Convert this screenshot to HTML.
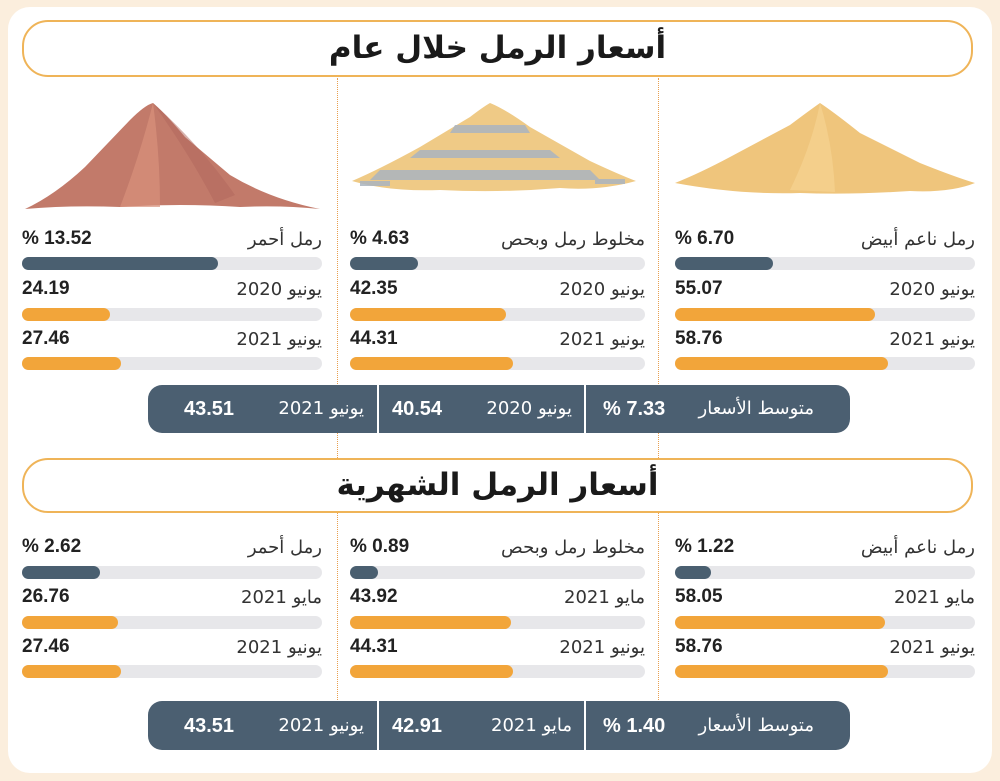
<!DOCTYPE html>
<html><head><meta charset="utf-8"><style>
*{margin:0;padding:0;box-sizing:border-box}
body{width:1000px;height:781px;background:#fbeedd;position:relative;overflow:hidden;font-family:"DejaVu Sans","Liberation Sans",sans-serif;color:#222}
.card{position:absolute;left:8px;top:7px;width:984px;height:766px;background:#fff;border-radius:22px}
.hdr{position:absolute;left:22px;width:951px;border:2px solid #efb458;border-radius:26px;text-align:center;font-weight:bold;font-size:31px;color:#1a1a1a}
.dot{position:absolute;width:0;border-left:1.5px dotted #e8a050}
.t{position:absolute;font-size:18px;white-space:nowrap;line-height:22px;color:#333}
.v{position:absolute;font-size:19px;font-weight:bold;white-space:nowrap;line-height:22px;color:#222;font-family:"Liberation Sans","DejaVu Sans",sans-serif}
.tr{position:absolute;height:13px;background:#e7e7ea;border-radius:7px}
.f{position:absolute;left:0;top:0;height:13px;border-radius:7px}
.d{background:#4a5f70}.o{background:#f2a53a}
.pill{position:absolute;left:148px;width:702px;background:#4b5f71;border-radius:14px;color:#fff}
.pill .s{position:absolute;top:0;bottom:0;width:2px;background:#fff}
.pill span{position:absolute;font-size:18px;white-space:nowrap;line-height:22px}
.pill b{position:absolute;font-size:20px;white-space:nowrap;line-height:22px;font-family:"Liberation Sans",sans-serif}
</style></head><body>
<div class="card"></div>
<div class="dot" style="left:337px;top:78px;height:622px"></div>
<div class="dot" style="left:658px;top:78px;height:622px"></div>
<div class="hdr" style="top:20px;height:57px;line-height:52px;background:#fff">أسعار الرمل خلال عام</div>
<div class="hdr" style="top:458px;height:55px;line-height:50px;background:#fff">أسعار الرمل الشهرية</div>

<svg style="position:absolute;left:0;top:95px" width="1000" height="120">
<path d="M675,88 Q700,78 730,62 L790,30 Q810,15 820,8 Q835,18 860,38 L920,68 Q955,82 975,88 Q950,98 910,96 Q850,100 800,98 Q740,100 675,88Z" fill="#efc57c"/>
<path d="M820,8 Q812,50 790,95 L835,97 Q833,50 820,8Z" fill="#f6d596" opacity=".6"/>
<path d="M352,86 Q380,74 420,52 L470,22 Q483,12 490,8 Q505,14 530,32 L590,66 Q620,80 636,86 Q600,96 560,93 Q500,98 440,95 Q390,97 352,86Z" fill="#efca86"/>
<g fill="#aab4c0" opacity=".85"><path d="M455,30 L525,30 L530,38 L450,38Z"/><path d="M420,55 L550,55 L560,63 L410,63Z"/><path d="M380,75 L590,75 L600,85 L370,85Z"/><rect x="360" y="86" width="30" height="5"/><rect x="595" y="84" width="30" height="5"/></g>
<path d="M25,114 Q55,100 85,72 L130,25 Q145,10 153,8 Q165,18 185,42 L230,80 Q270,104 320,114 Q280,110 240,112 Q180,108 120,112 Q70,110 25,114Z" fill="#c27a6a"/>
<path d="M153,8 Q140,60 120,112 L160,112 Q160,60 153,8Z" fill="#d8927c" opacity=".7"/>
<path d="M153,8 Q200,50 235,100 L215,108 Q190,60 153,8Z" fill="#b0665c" opacity=".5"/>
</svg>

<!-- Section 1 -->
<div class="t" style="right:25px;top:229px">رمل ناعم أبيض</div><div class="v" style="left:675px;top:228px">% 6.70</div>
<div class="tr" style="left:675px;top:257px;width:300px"><div class="f d" style="width:98px"></div></div>
<div class="t" style="right:25px;top:279px">يونيو 2020</div><div class="v" style="left:675px;top:278px">55.07</div>
<div class="tr" style="left:675px;top:308px;width:300px"><div class="f o" style="width:200px"></div></div>
<div class="t" style="right:25px;top:329px">يونيو 2021</div><div class="v" style="left:675px;top:328px">58.76</div>
<div class="tr" style="left:675px;top:357px;width:300px"><div class="f o" style="width:213px"></div></div>

<div class="t" style="right:355px;top:229px">مخلوط رمل وبحص</div><div class="v" style="left:350px;top:228px">% 4.63</div>
<div class="tr" style="left:350px;top:257px;width:295px"><div class="f d" style="width:68px"></div></div>
<div class="t" style="right:355px;top:279px">يونيو 2020</div><div class="v" style="left:350px;top:278px">42.35</div>
<div class="tr" style="left:350px;top:308px;width:295px"><div class="f o" style="width:156px"></div></div>
<div class="t" style="right:355px;top:329px">يونيو 2021</div><div class="v" style="left:350px;top:328px">44.31</div>
<div class="tr" style="left:350px;top:357px;width:295px"><div class="f o" style="width:163px"></div></div>

<div class="t" style="right:678px;top:229px">رمل أحمر</div><div class="v" style="left:22px;top:228px">% 13.52</div>
<div class="tr" style="left:22px;top:257px;width:300px"><div class="f d" style="width:196px"></div></div>
<div class="t" style="right:678px;top:279px">يونيو 2020</div><div class="v" style="left:22px;top:278px">24.19</div>
<div class="tr" style="left:22px;top:308px;width:300px"><div class="f o" style="width:88px"></div></div>
<div class="t" style="right:678px;top:329px">يونيو 2021</div><div class="v" style="left:22px;top:328px">27.46</div>
<div class="tr" style="left:22px;top:357px;width:300px"><div class="f o" style="width:99px"></div></div>

<div class="pill" style="top:385px;height:48px">
<div class="s" style="left:229px"></div><div class="s" style="left:436px"></div>
<span style="right:36px;top:13px">متوسط الأسعار</span><b style="left:455px;top:13px">% 7.33</b>
<span style="right:278px;top:13px">يونيو 2020</span><b style="left:244px;top:13px">40.54</b>
<span style="right:486px;top:13px">يونيو 2021</span><b style="left:36px;top:13px">43.51</b>
</div>

<!-- Section 2 -->
<div class="t" style="right:25px;top:537px">رمل ناعم أبيض</div><div class="v" style="left:675px;top:536px">% 1.22</div>
<div class="tr" style="left:675px;top:566px;width:300px"><div class="f d" style="width:36px"></div></div>
<div class="t" style="right:25px;top:587px">مايو 2021</div><div class="v" style="left:675px;top:586px">58.05</div>
<div class="tr" style="left:675px;top:616px;width:300px"><div class="f o" style="width:210px"></div></div>
<div class="t" style="right:25px;top:637px">يونيو 2021</div><div class="v" style="left:675px;top:636px">58.76</div>
<div class="tr" style="left:675px;top:665px;width:300px"><div class="f o" style="width:213px"></div></div>

<div class="t" style="right:355px;top:537px">مخلوط رمل وبحص</div><div class="v" style="left:350px;top:536px">% 0.89</div>
<div class="tr" style="left:350px;top:566px;width:295px"><div class="f d" style="width:28px"></div></div>
<div class="t" style="right:355px;top:587px">مايو 2021</div><div class="v" style="left:350px;top:586px">43.92</div>
<div class="tr" style="left:350px;top:616px;width:295px"><div class="f o" style="width:161px"></div></div>
<div class="t" style="right:355px;top:637px">يونيو 2021</div><div class="v" style="left:350px;top:636px">44.31</div>
<div class="tr" style="left:350px;top:665px;width:295px"><div class="f o" style="width:163px"></div></div>

<div class="t" style="right:678px;top:537px">رمل أحمر</div><div class="v" style="left:22px;top:536px">% 2.62</div>
<div class="tr" style="left:22px;top:566px;width:300px"><div class="f d" style="width:78px"></div></div>
<div class="t" style="right:678px;top:587px">مايو 2021</div><div class="v" style="left:22px;top:586px">26.76</div>
<div class="tr" style="left:22px;top:616px;width:300px"><div class="f o" style="width:96px"></div></div>
<div class="t" style="right:678px;top:637px">يونيو 2021</div><div class="v" style="left:22px;top:636px">27.46</div>
<div class="tr" style="left:22px;top:665px;width:300px"><div class="f o" style="width:99px"></div></div>

<div class="pill" style="top:701px;height:49px">
<div class="s" style="left:229px"></div><div class="s" style="left:436px"></div>
<span style="right:36px;top:14px">متوسط الأسعار</span><b style="left:455px;top:14px">% 1.40</b>
<span style="right:278px;top:14px">مايو 2021</span><b style="left:244px;top:14px">42.91</b>
<span style="right:486px;top:14px">يونيو 2021</span><b style="left:36px;top:14px">43.51</b>
</div>
</body></html>
